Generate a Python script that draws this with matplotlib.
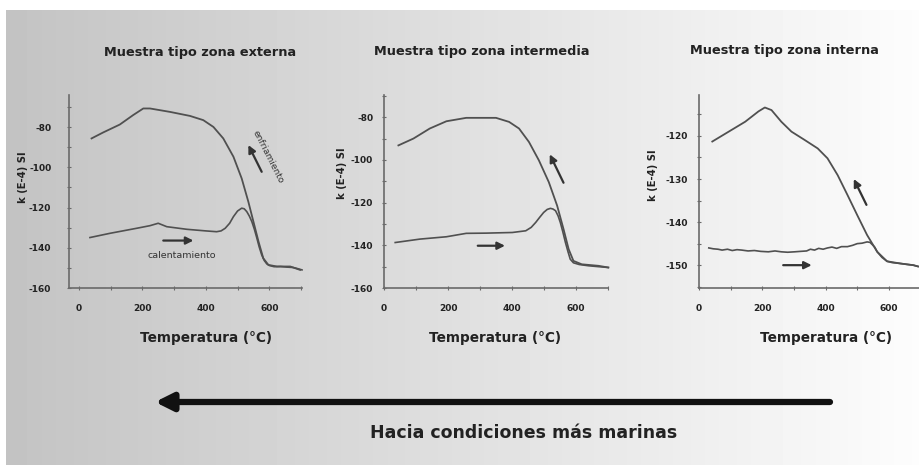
import numpy as np
import matplotlib
matplotlib.use("Agg")
import matplotlib.pyplot as plt
from matplotlib.ticker import MultipleLocator, FuncFormatter

plt.rcParams['font.family'] = ['DejaVu Sans']
plt.rcParams['axes.unicode_minus'] = False

# ---------------- data ----------------
titles = ["Muestra tipo zona externa", "Muestra tipo zona intermedia", "Muestra tipo zona interna"]
xlabel = "Temperatura (°C)"
ylabel = "k (E-4) SI"
bottom_text = "Hacia condiciones más marinas"

# Panel 1 (zona externa)
p1_heat_T = [35, 98, 182, 224, 250, 277, 340, 400, 434, 448, 461, 475, 487, 500, 513, 521, 529, 537, 545, 553, 561, 568, 576, 584, 592, 600, 615, 635, 655, 675, 690, 703]
p1_heat_k = [-134.9, -132.8, -130.3, -129, -127.8, -129.5, -130.8, -131.6, -132, -131.6, -130.3, -127.8, -124.5, -121.7, -120.3, -120.6, -122, -124.2, -127, -130.8, -135.3, -139.5, -143.5, -146.3, -148, -148.8, -149.4, -149.3, -149.6, -149.8, -150.4, -151]
p1_cool_T = [40, 77, 129, 171, 203, 224, 287, 350, 392, 424, 455, 487, 513, 534, 550, 566, 581, 597, 624, 666, 697]
p1_cool_k = [-85.6, -82.6, -78.7, -74.0, -70.7, -70.7, -72.4, -74.4, -76.5, -79.9, -85.6, -94.7, -105.5, -117.1, -127, -136.9, -145.2, -148.5, -149.3, -149.3, -151]

# Panel 2 (zona intermedia)
p2_heat_T = [35, 112, 195, 257, 319, 401, 443, 460, 474, 487, 499, 510, 520, 528, 536, 544, 551, 559, 567, 575, 582, 592, 610, 640, 670, 701]
p2_heat_k = [-138.7, -137.1, -136, -134.4, -134.3, -134, -133.2, -131.6, -129.3, -126.8, -124.6, -123.2, -122.7, -123, -123.8, -126.2, -129.3, -133.8, -138.7, -143, -146.5, -148.2, -149, -149.6, -150, -150.4]
p2_cool_T = [45, 92, 143, 195, 257, 350, 391, 422, 453, 484, 515, 541, 561, 577, 592, 618, 670, 701]
p2_cool_k = [-93.2, -90, -85.3, -81.9, -80.3, -80.3, -82.2, -85.3, -91.6, -100.2, -110.4, -121.4, -132.4, -141.8, -147.3, -148.9, -149.6, -150.4]

# Panel 3 (zona interna)
p3_heat_T = [31, 45, 60, 73, 90, 105, 120, 135, 155, 175, 195, 219, 240, 260, 280, 302, 320, 340, 352, 365, 378, 392, 406, 420, 435, 450, 469, 485, 500, 515, 531, 540, 547, 555, 563, 578, 594, 610, 635, 655, 677, 692]
p3_heat_k = [-146.0, -146.2, -146.3, -146.5, -146.3, -146.6, -146.4, -146.5, -146.7, -146.6, -146.8, -146.9, -146.7, -146.9, -147.0, -146.9, -146.8, -146.7, -146.3, -146.5, -146.1, -146.3, -146.0, -145.8, -146.1, -145.7, -145.7, -145.4, -145.0, -144.9, -144.6, -144.7, -145.2, -145.8, -146.9, -148.2, -149.1, -149.4, -149.6, -149.8, -150.0, -150.3]
p3_cool_T = [42, 94, 146, 188, 208, 229, 260, 292, 333, 375, 406, 438, 469, 500, 531, 563, 594, 635, 677, 692]
p3_cool_k = [-121.3, -119, -116.7, -114.3, -113.4, -114, -116.7, -119, -120.9, -122.9, -125.2, -129.1, -133.7, -138.4, -143, -146.9, -149.1, -149.6, -150, -150.3]

x_major = [0, 200, 400, 600]

# ---------------- figure ----------------
W, H = 919, 465
fig = plt.figure(figsize=(W / 100, H / 100), dpi=100)
fig.patch.set_facecolor('white')

# gradient background
bg = fig.add_axes([6 / W, 0, 1 - 6 / W, 1 - 10 / H], zorder=-10)
grad = np.linspace(0.765, 0.99, 256)[None, :]
bg.imshow(grad, cmap='gray', vmin=0, vmax=1, aspect='auto', extent=[0, 1, 0, 1])
bg.set_axis_off()

def px_axes(x0, x1, y0, y1):
    return fig.add_axes([x0 / W, 1 - y1 / H, (x1 - x0) / W, (y1 - y0) / H])

line_c = '#505050'
text_c = '#222222'
spine_c = '#6a6a6a'

panels = [
    dict(box=(69, 302, 95, 288), xlim=(-31, 703), ylim=(-160, -64), ymaj=20, ymin=10,
         heat=(p1_heat_T, p1_heat_k), cool=(p1_cool_T, p1_cool_k), ypad=11,
         title_xy=(0.562, 1.218), ylab_xy=(-0.197, 0.575), xlab_xy=(0.588, -0.259)),
    dict(box=(384, 608, 95, 288), xlim=(6, 700), ylim=(-160, -69.6), ymaj=20, ymin=10,
         heat=(p2_heat_T, p2_heat_k), cool=(p2_cool_T, p2_cool_k), ypad=6,
         title_xy=(0.4375, 1.223), ylab_xy=(-0.1875, 0.596), xlab_xy=(0.496, -0.259)),
    dict(box=(699, 919, 95, 288), xlim=(7, 695), ylim=(-155.3, -110.5), ymaj=10, ymin=5,
         heat=(p3_heat_T, p3_heat_k), cool=(p3_cool_T, p3_cool_k), ypad=6,
         title_xy=(0.39, 1.233), ylab_xy=(-0.209, 0.585), xlab_xy=(0.577, -0.259)),
]

axes = []
for i, p in enumerate(panels):
    ax = px_axes(*p['box'])
    ax.patch.set_alpha(0)
    ax.plot(*p['cool'], color=line_c, lw=1.3, clip_on=False, solid_joinstyle='round')
    ax.plot(*p['heat'], color=line_c, lw=1.2, clip_on=False, solid_joinstyle='round')
    ax.set_xlim(*p['xlim'])
    ax.set_ylim(*p['ylim'])
    for s in ['top', 'right']:
        ax.spines[s].set_visible(False)
    for s in ['left', 'bottom']:
        ax.spines[s].set_color(spine_c)
        ax.spines[s].set_linewidth(1.2)
    ax.set_xticks(x_major)
    ax.xaxis.set_minor_locator(MultipleLocator(100))
    ax.yaxis.set_major_locator(MultipleLocator(p['ymaj']))
    ax.yaxis.set_minor_locator(MultipleLocator(p['ymin']))
    ax.yaxis.set_major_formatter(FuncFormatter(lambda v, pos: '%d' % v))
    ax.tick_params(which='both', direction='inout', color=spine_c, width=0.8)
    ax.tick_params(which='major', length=3.5)
    ax.tick_params(which='minor', length=2.5)
    ax.tick_params(axis='x', pad=10, labelsize=6.5, labelcolor=text_c)
    ax.tick_params(axis='y', pad=p['ypad'], labelsize=6.5, labelcolor=text_c)
    for lab in ax.get_xticklabels() + ax.get_yticklabels():
        lab.set_fontweight('bold')
    ax.text(*p['title_xy'], titles[i], transform=ax.transAxes, ha='center', va='center',
            fontsize=9.3, fontweight='bold', color=text_c)
    ax.text(*p['ylab_xy'], ylabel, transform=ax.transAxes, ha='center', va='center',
            rotation=90, fontsize=7.2, fontweight='bold', color=text_c)
    ax.text(*p['xlab_xy'], xlabel, transform=ax.transAxes, ha='center', va='center',
            fontsize=9.8, fontweight='bold', color=text_c)
    axes.append(ax)

arrow_kw = dict(arrowstyle='-|>', color='#333333', lw=1.6, mutation_scale=11,
                shrinkA=0, shrinkB=0)

ax1, ax2, ax3 = axes
ax1.annotate('', xy=(534, -88.9), xytext=(576, -102.2), arrowprops=arrow_kw)
ax1.annotate('', xy=(361, -136.4), xytext=(266, -136.4), arrowprops=arrow_kw)
ax1.text(596, -94.7, 'enfriamiento', rotation=-63, ha='center', va='center',
         fontsize=6.5, color='#333333')
ax1.text(324, -144, 'calentamiento', ha='center', va='center', fontsize=6.8, color='#333333')

ax2.annotate('', xy=(518, -97.4), xytext=(561, -110.7), arrowprops=arrow_kw)
ax2.annotate('', xy=(378, -140.2), xytext=(293, -140.2), arrowprops=arrow_kw)

ax3.annotate('', xy=(489, -130), xytext=(529, -136), arrowprops=arrow_kw)
ax3.annotate('', xy=(356, -150), xytext=(266, -150), arrowprops=arrow_kw)

# big arrow
fig.patches.append(matplotlib.patches.FancyArrowPatch(
    (830 / W, 1 - 402 / H), (155 / W, 1 - 402 / H), transform=fig.transFigure,
    arrowstyle='-|>', mutation_scale=26, lw=4.5, color='#111111', shrinkA=0, shrinkB=0))
fig.text(524 / W, 1 - 433 / H, bottom_text, ha='center', va='center',
         fontsize=12.5, fontweight='bold', color=text_c)

fig.savefig('out.png', dpi=100)
